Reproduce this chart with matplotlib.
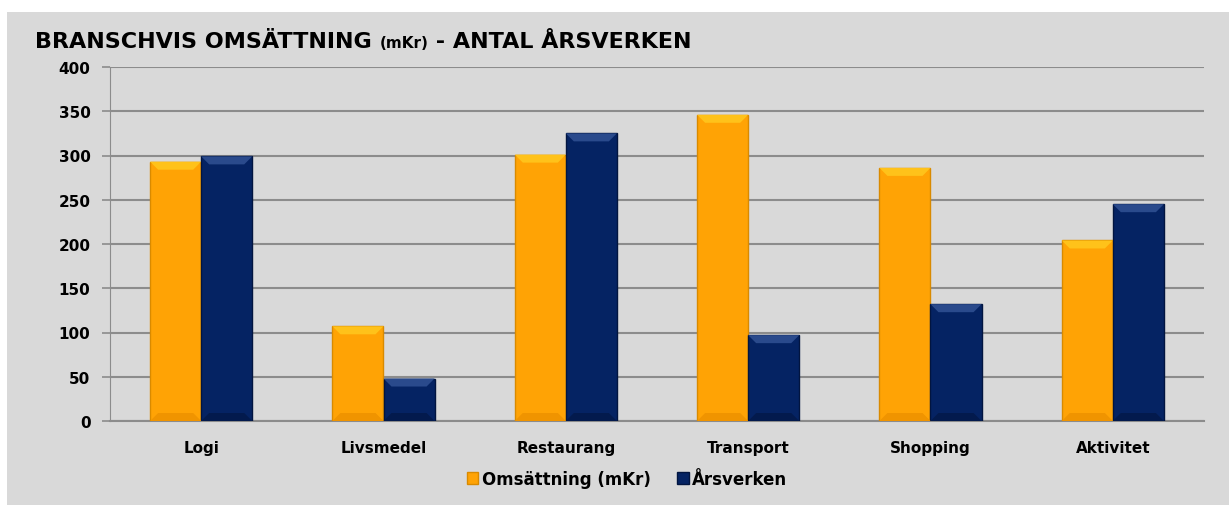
import numpy as np
import matplotlib
matplotlib.use("Agg")
import matplotlib.pyplot as plt
from matplotlib.patches import Rectangle, Polygon

categories = ["Logi", "Livsmedel", "Restaurang", "Transport", "Shopping", "Aktivitet"]
omsattning = [293, 107, 301, 346, 286, 204]
arsverken = [299, 48, 325, 97, 132, 245]
series_names = ["Omsättning (mKr)", "Årsverken"]
yticks = [0, 50, 100, 150, 200, 250, 300, 350, 400]

plt.rcParams["font.family"] = ["DejaVu Sans"]

fig = plt.figure(figsize=(12.29, 5.06), dpi=100)
fig.patch.set_facecolor("white")

# gray chart area
fig.patches.append(Rectangle((7 / 1229, 0), 1 - 7 / 1229, 1 - 13 / 506,
                             transform=fig.transFigure, facecolor="#d9d9d9",
                             edgecolor="none", zorder=-10))

ax = fig.add_axes([110 / 1229, 84 / 506, 1094 / 1229, 354 / 506])
ax.set_facecolor("#d9d9d9")

x = np.arange(len(categories))
w = 0.28
b1 = ax.bar(x - w / 2, omsattning, w, color="#ffa305", edgecolor="#d98a00", linewidth=1, zorder=3,
            label=series_names[0])
b2 = ax.bar(x + w / 2, arsverken, w, color="#052363", edgecolor="#021540", linewidth=1, zorder=3,
            label=series_names[1])

ax.set_xlim(-0.5, len(categories) - 0.5)
ax.set_ylim(0, 400)

# bevel look: lighter top edge, darker bottom edge
px_x = 0.28 / 51 * 8
px_y = 400 / 354 * 8
for bars, top_c, bot_c in [(b1, "#ffc21a", "#f09400"), (b2, "#2a4a8c", "#031a4d")]:
    for p in bars:
        x0, y0, ww, hh = p.get_x(), p.get_y(), p.get_width(), p.get_height()
        ax.add_patch(Polygon([(x0, y0 + hh), (x0 + ww, y0 + hh), (x0 + ww - px_x, y0 + hh - px_y),
                              (x0 + px_x, y0 + hh - px_y)], closed=True, facecolor=top_c,
                             edgecolor="none", zorder=4))
        ax.add_patch(Polygon([(x0, y0), (x0 + ww, y0), (x0 + ww - px_x, y0 + px_y),
                              (x0 + px_x, y0 + px_y)], closed=True, facecolor=bot_c,
                             edgecolor="none", zorder=4))

ax.set_yticks(yticks)
ax.set_yticklabels([str(v) for v in yticks], fontsize=11, fontweight="bold")
ax.set_xticks(x)
ax.set_xticklabels(categories, fontsize=11, fontweight="bold")
ax.tick_params(axis="x", length=0, pad=14)
ax.tick_params(axis="y", length=6, color="#8c8c8c", width=1.2, pad=8)
ax.yaxis.grid(True, color="#8c8c8c", linewidth=1.5, zorder=0)
ax.set_axisbelow(True)
for s in ["top", "right"]:
    ax.spines[s].set_visible(False)
ax.spines["left"].set_color("#8c8c8c")
ax.spines["bottom"].set_color("#8c8c8c")
ax.spines["bottom"].set_linewidth(1.5)

leg = ax.legend(handles=[b1, b2], loc="center", bbox_to_anchor=(627 / 1229, 1 - 480 / 506),
                bbox_transform=fig.transFigure, ncol=2, frameon=False,
                prop={"size": 12, "weight": "bold"}, handlelength=0.7, handleheight=0.7,
                handletextpad=0.2, columnspacing=1.6, borderpad=0)

# title pieces
ty = 1 - 48 / 506
t1 = fig.text(35 / 1229, ty, "BRANSCHVIS OMSÄTTNING ", fontsize=16, fontweight="bold",
              va="baseline")
t2 = fig.text(0, ty, "(mKr)", fontsize=11, fontweight="bold", va="baseline")
t3 = fig.text(0, ty, " - ANTAL ÅRSVERKEN", fontsize=16, fontweight="bold", va="baseline")
fig.canvas.draw()
r = fig.canvas.get_renderer()
inv = fig.transFigure.inverted()
t2.set_x(inv.transform((t1.get_window_extent(r).x1, 0))[0])
fig.canvas.draw()
t3.set_x(inv.transform((t2.get_window_extent(r).x1, 0))[0])

fig.savefig("out.png", dpi=100)
